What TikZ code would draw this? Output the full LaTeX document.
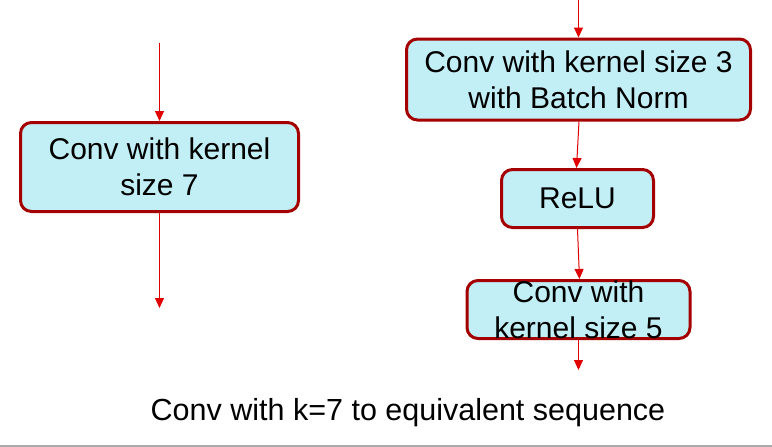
\documentclass[tikz,border=0pt]{standalone}
\usepackage{fontspec}
\setmainfont{Liberation Sans}
\usetikzlibrary{arrows.meta}
\definecolor{boxfill}{RGB}{194,238,245}
\definecolor{boxline}{RGB}{165,0,0}
\definecolor{arrred}{RGB}{224,0,0}
\definecolor{rulegray}{RGB}{170,170,170}
\tikzset{
  blockbox/.style={draw=boxline, line width=3pt, fill=boxfill, rounded corners=11pt, inner sep=0pt},
  blocktext/.style={font=\fontsize{30}{36}\selectfont, align=center, inner sep=0pt, text=black},
  arr/.style={draw=arrred, line width=1pt, -{Triangle[width=9pt,length=10pt]}},
  captext/.style={font=\fontsize{30.5}{34}\selectfont, inner sep=0pt, anchor=base}
}
\begin{document}
\begin{tikzpicture}[x=1pt,y=-1pt]
\useasboundingbox (0,0) rectangle (772,447);
\draw[rulegray, line width=1.5pt] (0,446) -- (772,446);
% left
\node[blockbox, minimum width=278pt, minimum height=89pt] (a) at (159.5,167) {};
\node[blocktext] (at) at (159.5,167) {Conv with kernel\\size 7};
\coordinate (ain) at (159.5,43);
\coordinate (aout) at (159.5,308);
\draw[arr] (ain) -- (a.north);
\draw[arr] (a.south) -- (aout);
% right
\node[blockbox, minimum width=344pt, minimum height=81pt] (b) at (578.5,79.5) {};
\node[blocktext] (bt) at (578.5,79.5) {Conv with kernel size 3\\with Batch Norm};
\node[blockbox, minimum width=152pt, minimum height=58pt] (c) at (577.5,198.5) {};
\node[blocktext] (ct) at (577.5,198.5) {ReLU};
\node[blockbox, minimum width=223pt, minimum height=58pt] (d) at (578.5,309.5) {};
\node[blocktext] (dt) at (578.5,309.5) {Conv with\\kernel size 5};
\coordinate (bin) at (578.5,0);
\coordinate (dout) at (578.5,370);
\draw[arr] (bin) -- (b.north);
\draw[arr] ([xshift=0.5pt]b.south) -- ([xshift=-1pt]c.north);
\draw[arr] (c.south) -- ([xshift=1pt]d.north);
\draw[arr] (d.south) -- (dout);
% caption
\node[captext] (cap) at (408,420) {Conv with k=7 to equivalent sequence};
\end{tikzpicture}
\end{document}
